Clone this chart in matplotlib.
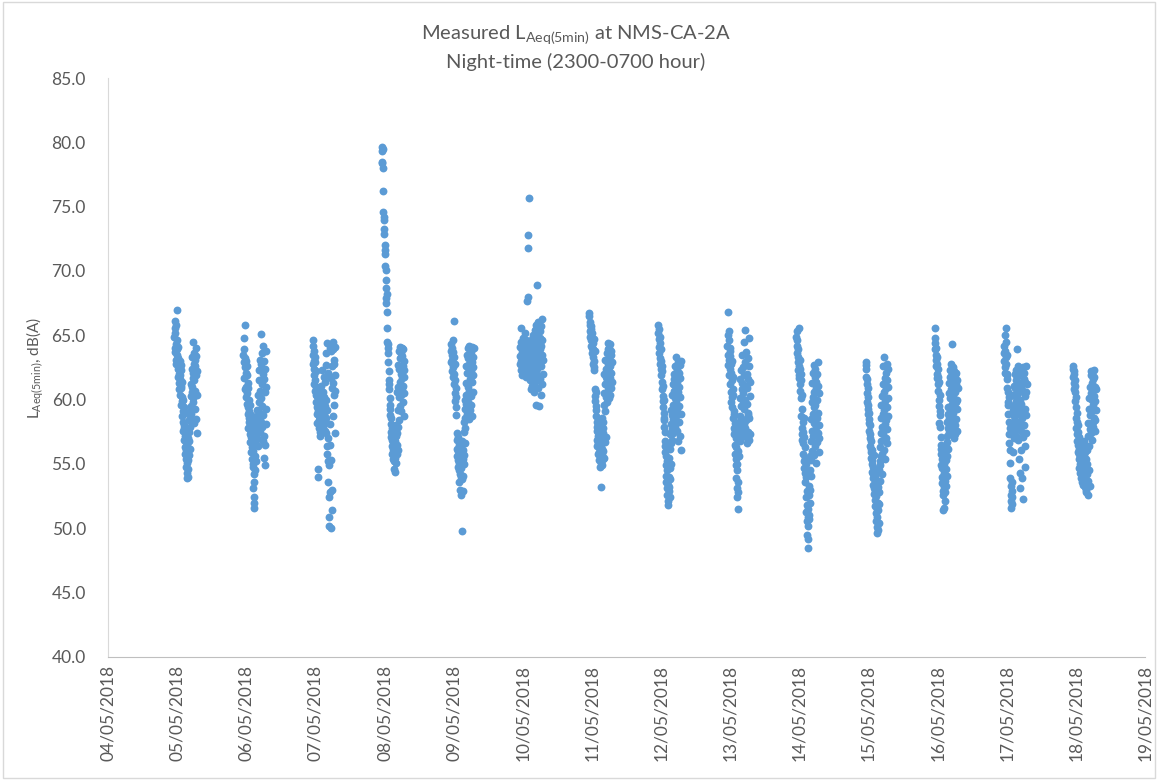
import matplotlib
matplotlib.use('Agg')
import matplotlib.pyplot as plt
import matplotlib.dates as mdates
import numpy as np
import pandas as pd
from matplotlib.patches import Rectangle

plt.rcParams['font.family'] = ['Lato', 'DejaVu Sans']
plt.rcParams['mathtext.fontset'] = 'custom'
plt.rcParams['mathtext.rm'] = 'Lato'

# Каждая ночь: 5-минутные значения LAeq с 23:00 предыдущего дня до 06:55
night_dates = ['2018-05-05', '2018-05-06', '2018-05-07', '2018-05-08', '2018-05-09',
               '2018-05-10', '2018-05-11', '2018-05-12', '2018-05-13', '2018-05-14',
               '2018-05-15', '2018-05-16', '2018-05-17', '2018-05-18']

night_05 = [64.9, 65.6, 66.1, 65.2, 64.0, 63.7, 65.8, 64.3, 63.1, 62.8, 64.6, 63.9,
            67.0, 63.5, 62.4, 61.8, 63.2, 64.1, 62.0, 61.3, 62.9, 60.8, 61.6, 63.0,
            61.9, 60.4, 62.3, 61.1, 59.6, 60.9, 62.7, 59.9, 58.7, 61.4, 60.2, 59.1,
            58.3, 60.0, 57.6, 59.4, 58.0, 56.9, 57.8, 59.0, 56.3, 57.2, 55.8, 56.7,
            55.4, 56.1, 54.8, 55.9, 54.3, 55.1, 53.9, 56.5, 54.6, 55.3, 57.0, 54.0,
            55.7, 56.8, 57.5, 58.4, 56.2, 59.1, 58.6, 57.9, 60.3, 59.5, 61.2, 58.9,
            62.4, 61.0, 63.3, 60.6, 59.8, 62.1, 64.5, 61.7, 60.1, 63.6, 58.2, 62.8,
            61.5, 63.1, 59.3, 60.7, 62.6, 64.0, 58.5, 61.9, 63.4, 60.4, 62.2, 57.4]

night_06 = [63.5, 64.8, 62.9, 63.9, 61.7, 62.5, 63.2, 60.8, 65.8, 62.1, 61.0, 63.0,
            60.2, 61.9, 59.7, 62.6, 60.5, 58.9, 61.3, 59.4, 60.9, 57.8, 59.1, 58.3,
            60.0, 58.6, 57.3, 59.6, 58.0, 56.7, 57.5, 58.8, 55.9, 57.1, 56.3, 58.4,
            55.4, 57.7, 54.8, 56.0, 53.1, 55.0, 52.4, 54.2, 51.6, 53.6, 52.0, 55.6,
            56.6, 54.5, 57.9, 55.2, 58.5, 56.9, 58.1, 57.4, 59.2, 57.0, 58.7, 56.4,
            57.6, 60.4, 58.2, 61.5, 57.8, 59.8, 62.3, 58.6, 60.7, 57.5, 63.1, 59.0,
            62.8, 58.3, 60.1, 65.1, 61.2, 57.9, 63.6, 59.5, 62.0, 56.8, 64.2, 58.8,
            61.6, 55.5, 63.0, 57.2, 60.6, 54.9, 62.4, 56.5, 59.3, 63.8, 58.1, 61.0]

night_07 = [64.2, 63.5, 62.8, 64.6, 63.0, 61.9, 62.4, 63.8, 61.2, 62.9, 60.7, 63.3,
            61.5, 62.2, 60.4, 59.8, 61.0, 58.9, 60.3, 59.4, 58.2, 60.8, 54.6, 54.0,
            59.1, 58.4, 57.8, 59.6, 58.7, 57.5, 60.1, 58.0, 59.3, 57.2, 58.6, 61.1,
            58.3, 59.8, 57.7, 58.9, 62.3, 58.1, 59.4, 57.9, 60.6, 58.5, 61.8, 59.0,
            58.8, 60.2, 57.6, 61.4, 59.5, 58.2, 62.7, 57.4, 60.0, 63.6, 58.6, 56.4,
            59.2, 55.8, 64.4, 57.0, 55.2, 62.1, 53.6, 50.9, 52.4, 50.2, 54.9, 56.5,
            58.1, 64.0, 52.8, 61.7, 50.0, 63.8, 55.3, 51.4, 64.3, 60.9, 53.0, 62.6,
            63.9, 58.7, 64.5, 61.3, 59.6, 62.8, 60.4, 63.1, 57.4, 61.9, 64.1, 60.7]

night_08 = [79.6, 79.3, 78.5, 78.4, 78.0, 79.5, 76.2, 74.6, 74.0, 73.3, 74.2, 72.9,
            72.0, 71.6, 71.3, 70.4, 70.1, 69.3, 68.7, 67.9, 67.5, 68.2, 66.8, 65.6,
            64.5, 64.0, 63.6, 62.9, 64.3, 62.2, 61.5, 60.8, 61.2, 60.1, 59.6, 58.8,
            59.3, 58.1, 57.5, 58.6, 57.1, 56.4, 57.8, 56.9, 55.8, 57.3, 56.2, 55.4,
            56.7, 55.9, 57.6, 55.2, 56.3, 54.6, 55.7, 56.8, 54.4, 55.5, 57.2, 56.0,
            55.1, 58.0, 56.5, 57.4, 60.6, 55.8, 59.2, 56.1, 61.0, 57.9, 62.7, 58.4,
            63.8, 60.2, 62.4, 64.1, 59.5, 63.2, 61.4, 60.4, 63.6, 62.0, 59.1, 64.0,
            61.7, 63.4, 60.9, 62.6, 59.8, 63.9, 61.1, 62.3, 60.5, 63.0, 58.7, 61.8]

night_09 = [63.8, 64.3, 62.9, 63.5, 62.2, 64.0, 63.1, 62.5, 61.8, 63.7, 62.7, 64.6,
            66.1, 63.3, 62.0, 61.2, 60.5, 62.8, 59.9, 61.5, 60.2, 58.8, 60.9, 59.4,
            57.4, 56.2, 55.6, 56.9, 54.8, 55.3, 57.1, 56.0, 54.5, 55.8, 53.6, 56.5,
            55.1, 54.2, 56.3, 55.5, 53.0, 54.7, 55.9, 52.6, 54.0, 56.8, 55.2, 49.8,
            53.8, 55.4, 54.1, 56.1, 52.9, 55.0, 57.5, 55.7, 58.3, 56.6, 59.3, 57.8,
            60.0, 58.6, 61.3, 59.7, 62.6, 60.4, 63.5, 58.9, 59.5, 62.1, 64.0, 61.0,
            63.2, 59.8, 62.8, 64.2, 60.7, 58.5, 63.9, 61.6, 62.4, 59.2, 63.0, 60.3,
            62.2, 63.7, 59.6, 61.4, 64.1, 62.9, 58.7, 60.6, 63.3, 61.9, 62.5, 64.0]

night_10 = [63.4, 64.1, 62.8, 65.6, 63.0, 62.3, 64.5, 63.7, 62.6, 63.9, 61.9, 64.8,
            63.2, 62.5, 64.0, 63.6, 62.1, 63.8, 64.3, 62.9, 63.4, 65.2, 62.4, 63.1,
            64.6, 62.7, 63.3, 61.8, 64.2, 63.0, 62.2, 67.7, 72.8, 71.8, 68.0, 63.5,
            75.7, 62.8, 64.4, 63.6, 62.0, 63.9, 62.6, 61.5, 64.1, 63.2, 62.9, 60.8,
            63.5, 64.7, 62.3, 61.1, 63.7, 62.7, 65.0, 63.3, 61.7, 64.9, 62.5, 60.6,
            63.0, 65.4, 62.1, 64.3, 61.4, 63.6, 59.6, 65.8, 62.8, 68.9, 64.0, 61.9,
            65.1, 62.4, 66.0, 63.8, 60.9, 64.5, 62.7, 65.5, 59.5, 63.2, 64.8, 61.6,
            63.9, 65.3, 62.6, 64.2, 60.4, 65.7, 63.5, 61.2, 64.6, 66.3, 62.0, 63.1]

night_11 = [66.5, 66.7, 65.8, 65.3, 66.0, 64.9, 65.5, 64.6, 65.1, 64.2, 65.7, 64.8,
            64.0, 65.2, 63.6, 64.4, 63.9, 62.8, 63.3, 64.7, 62.5, 63.0, 62.3, 63.8,
            60.8, 60.3, 59.9, 60.6, 59.5, 58.7, 59.2, 57.6, 58.3, 56.9, 57.9, 56.4,
            57.2, 55.8, 56.6, 58.0, 55.3, 56.9, 57.5, 55.9, 54.8, 56.3, 57.0, 55.6,
            56.5, 55.1, 53.2, 57.3, 55.7, 56.2, 54.9, 58.6, 55.4, 57.8, 56.0, 58.3,
            57.4, 59.6, 55.5, 60.5, 62.0, 56.7, 61.2, 59.1, 63.1, 60.2, 61.8, 57.1,
            62.4, 60.6, 63.6, 61.5, 59.8, 64.4, 62.8, 61.0, 63.9, 60.1, 62.2, 64.0,
            61.3, 63.2, 60.4, 62.6, 64.3, 61.7, 63.5, 60.9, 62.1, 63.8, 61.4, 62.9]

night_12 = [65.8, 65.2, 64.7, 65.5, 64.1, 63.6, 64.9, 63.2, 64.4, 62.8, 63.9, 62.4,
            63.0, 61.9, 62.6, 61.4, 60.8, 62.2, 59.9, 61.1, 60.3, 59.4, 58.6, 60.0,
            59.0, 57.9, 58.4, 56.8, 57.5, 55.9, 56.4, 54.9, 55.6, 54.1, 53.6, 55.2,
            53.1, 54.5, 52.6, 53.9, 52.1, 53.4, 51.8, 52.9, 54.0, 53.2, 55.5, 52.4,
            54.7, 56.2, 53.8, 57.3, 55.0, 58.1, 56.6, 59.2, 57.7, 58.8, 56.9, 60.4,
            58.5, 61.2, 59.6, 57.4, 62.0, 60.7, 58.2, 61.6, 59.3, 62.6, 60.1, 57.9,
            61.8, 59.8, 63.3, 58.7, 60.9, 62.3, 57.6, 61.4, 59.1, 62.9, 60.4, 56.8,
            60.6, 62.1, 58.3, 61.0, 59.5, 62.7, 57.2, 60.2, 61.7, 58.9, 63.0, 56.1]

night_13 = [64.2, 66.8, 63.5, 65.0, 62.7, 64.6, 63.1, 65.3, 61.9, 63.8, 62.4, 64.0,
            61.2, 63.4, 60.6, 62.8, 59.8, 62.1, 61.5, 60.2, 63.0, 59.4, 61.8, 60.8,
            58.6, 60.4, 57.8, 59.1, 57.3, 58.9, 56.5, 57.6, 55.8, 58.2, 54.9, 57.0,
            55.4, 53.9, 56.3, 53.1, 55.0, 52.4, 54.5, 51.5, 53.6, 56.0, 52.8, 57.4,
            58.3, 55.6, 57.9, 60.1, 56.8, 58.7, 61.6, 57.5, 59.5, 62.3, 58.0, 60.8,
            57.2, 61.3, 58.5, 63.5, 59.9, 57.7, 62.5, 60.5, 58.1, 64.5, 59.3, 61.9,
            57.8, 62.9, 60.0, 65.4, 58.4, 61.1, 63.7, 57.1, 59.7, 62.0, 56.6, 60.9,
            58.8, 63.2, 57.5, 61.6, 59.0, 62.6, 56.9, 58.6, 64.8, 60.3, 57.3, 61.4]

night_14 = [64.9, 65.3, 64.2, 63.6, 64.6, 62.9, 63.9, 62.3, 63.3, 61.7, 65.6, 62.6,
            61.9, 63.1, 61.2, 62.4, 60.7, 61.5, 60.1, 62.0, 58.7, 60.4, 57.3, 59.3,
            57.8, 56.9, 58.3, 57.5, 55.8, 56.6, 58.6, 55.2, 57.1, 54.7, 56.3, 55.5,
            54.3, 53.6, 55.0, 52.4, 54.0, 51.3, 52.9, 50.6, 51.8, 49.5, 50.9, 48.5,
            50.2, 49.2, 51.5, 50.7, 52.6, 51.0, 53.3, 52.0, 54.5, 53.0, 55.6, 54.1,
            56.8, 58.5, 55.3, 59.8, 57.6, 61.3, 56.0, 60.2, 58.9, 62.1, 57.2, 59.4,
            62.7, 55.7, 60.6, 58.2, 61.8, 56.4, 59.6, 62.4, 57.9, 60.9, 55.1, 61.4,
            58.6, 62.0, 56.7, 60.0, 57.4, 61.1, 59.0, 62.9, 55.9, 58.0, 60.5, 57.0]

night_15 = [62.9, 62.4, 61.8, 62.7, 61.2, 60.5, 61.6, 59.8, 60.9, 59.3, 60.2, 58.9,
            59.6, 58.2, 59.0, 57.6, 58.5, 57.0, 58.0, 56.4, 57.3, 55.9, 56.8, 56.2,
            55.5, 56.1, 55.0, 54.4, 55.3, 53.9, 54.8, 53.4, 54.2, 55.7, 53.1, 54.6,
            52.7, 54.0, 52.2, 53.5, 51.7, 52.9, 51.2, 54.3, 50.6, 52.5, 50.1, 51.5,
            49.6, 50.9, 52.0, 49.9, 51.4, 53.2, 50.4, 52.8, 54.5, 51.9, 55.2, 53.7,
            56.3, 54.9, 57.4, 55.6, 58.6, 56.8, 59.6, 54.2, 57.9, 60.3, 55.8, 58.9,
            61.2, 57.3, 62.6, 59.2, 56.1, 60.6, 63.3, 58.1, 61.7, 55.4, 59.9, 62.1,
            57.0, 60.9, 58.4, 62.8, 56.6, 59.4, 61.5, 57.7, 60.1, 62.4, 58.7, 61.0]

night_16 = [65.6, 64.4, 63.9, 64.8, 63.1, 64.0, 62.6, 63.5, 62.0, 63.3, 61.7, 62.8,
            61.2, 62.4, 60.7, 61.8, 60.0, 61.4, 59.5, 58.2, 60.4, 59.1, 57.9, 58.8,
            56.5, 55.8, 57.1, 54.9, 56.2, 54.0, 55.4, 53.5, 54.7, 52.9, 51.4, 53.8,
            52.6, 54.3, 51.6, 53.2, 55.0, 52.1, 53.7, 55.8, 52.8, 54.6, 56.4, 53.3,
            55.3, 57.2, 54.1, 56.7, 58.3, 55.6, 57.8, 59.4, 56.2, 58.9, 60.5, 57.5,
            61.3, 58.6, 62.3, 60.1, 57.4, 61.8, 59.2, 62.8, 58.1, 60.8, 64.3, 59.7,
            62.0, 57.7, 61.0, 59.0, 62.5, 58.4, 60.3, 61.6, 57.0, 59.6, 62.2, 58.0,
            60.6, 61.9, 57.3, 59.8, 62.1, 58.5, 61.2, 60.0, 57.6, 61.5, 59.3, 60.9]

night_17 = [63.6, 64.2, 63.0, 65.0, 62.5, 63.8, 62.1, 64.5, 63.3, 65.6, 62.8, 61.9,
            63.5, 62.0, 60.9, 61.6, 59.8, 60.6, 58.9, 59.6, 57.3, 60.2, 58.3, 56.6,
            57.8, 56.1, 55.1, 53.9, 52.6, 53.3, 52.1, 51.6, 52.9, 51.9, 53.6, 52.4,
            55.9, 57.4, 59.2, 58.0, 60.4, 57.0, 61.1, 58.7, 59.6, 62.0, 57.6, 60.9,
            58.4, 61.5, 59.9, 62.3, 57.2, 60.1, 61.8, 58.9, 63.9, 59.4, 56.9, 62.6,
            60.5, 57.9, 62.0, 59.1, 55.4, 61.3, 58.2, 54.3, 60.0, 53.1, 56.1, 62.4,
            59.7, 61.0, 57.5, 62.2, 53.9, 58.6, 60.7, 52.3, 62.5, 57.1, 59.0, 61.6,
            58.0, 62.1, 60.3, 54.8, 61.4, 59.3, 56.4, 62.6, 58.8, 60.6, 57.4, 61.2]

night_18 = [62.4, 62.6, 61.8, 62.2, 61.3, 62.0, 60.8, 61.5, 59.9, 60.6, 61.1, 59.4,
            58.6, 60.2, 57.8, 59.0, 57.3, 58.3, 56.8, 58.0, 57.5, 55.9, 56.5, 57.1,
            55.4, 56.2, 54.7, 55.8, 56.6, 55.0, 54.3, 55.5, 56.0, 54.8, 53.9, 55.2,
            54.5, 55.7, 53.6, 54.9, 56.3, 55.3, 54.1, 53.4, 55.6, 54.4, 56.8, 53.8,
            55.1, 54.0, 56.5, 53.2, 55.9, 54.6, 53.0, 55.4, 52.8, 54.2, 56.1, 53.5,
            55.0, 57.2, 53.7, 58.2, 52.6, 56.4, 59.3, 54.5, 60.1, 53.3, 57.7, 61.0,
            58.8, 61.9, 57.4, 60.5, 62.2, 59.1, 61.3, 56.9, 60.0, 62.0, 58.3, 61.6,
            59.6, 57.9, 61.8, 60.3, 58.6, 62.3, 59.9, 57.6, 61.0, 58.4, 60.8, 59.2]

nights = [night_05, night_06, night_07, night_08, night_09, night_10, night_11,
          night_12, night_13, night_14, night_15, night_16, night_17, night_18]

y_ticks = [40, 45, 50, 55, 60, 65, 70, 75, 80, 85]

text_color = '#595959'
dot_color = '#5B9BD5'

fig = plt.figure(figsize=(11.58, 7.8), dpi=100)
ax = fig.add_axes([0.0933, 0.1577, 0.8955, 0.7423])

for d, vals in zip(night_dates, nights):
    # ночь начинается в 23:00 предыдущего дня, шаг 5 минут
    t = pd.date_range(pd.Timestamp(d) - pd.Timedelta(hours=1), periods=len(vals), freq='5min')
    ax.scatter(t, vals, s=32, color=dot_color, linewidths=0, zorder=3)

ax.set_xlim(pd.Timestamp('2018-05-04'), pd.Timestamp('2018-05-19'))
ax.set_ylim(40, 85)

ax.xaxis.set_major_locator(mdates.DayLocator())
ax.xaxis.set_major_formatter(mdates.DateFormatter('%d/%m/%Y'))
ax.set_yticks(y_ticks)
ax.set_yticklabels([f'{v:.1f}' for v in y_ticks])

ax.tick_params(axis='x', labelrotation=90, labelsize=12.5, colors=text_color, length=0, pad=6)
ax.tick_params(axis='y', labelsize=12.5, colors=text_color, length=0, pad=16)

for side in ['top', 'right']:
    ax.spines[side].set_visible(False)
ax.spines['left'].set_color('#D9D9D9')
ax.spines['bottom'].set_color('#BFBFBF')

ax.set_ylabel(r'L$_{\mathregular{Aeq(5min)}}$, dB(A)', fontsize=11, color=text_color, labelpad=4)

fig.text(0.497, 0.955, r'Measured L$_{\mathregular{Aeq(5min)}}$ at NMS-CA-2A',
         ha='center', va='center', fontsize=14.5, color=text_color)
fig.text(0.497, 0.92, 'Night-time (2300-0700 hour)',
         ha='center', va='center', fontsize=14.5, color=text_color)

# рамка области диаграммы
fig.patches.append(Rectangle((0.003, 0.003), 0.994, 0.994, transform=fig.transFigure,
                             fill=False, edgecolor='#D9D9D9', linewidth=1))

fig.savefig('out.png', dpi=100)
plt.close(fig)
